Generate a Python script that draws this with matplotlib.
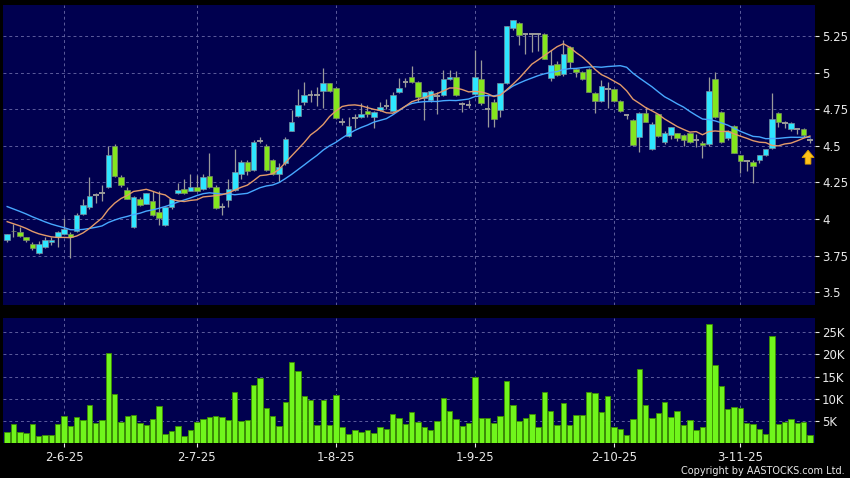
import numpy as np
import pandas as pd
import matplotlib
matplotlib.use("Agg")
import matplotlib.pyplot as plt
from matplotlib.patches import FancyArrow

plt.rcParams["font.family"] = ["DejaVu Sans"]

#%%
# OHLC, one candle per trading day
opens = [3.855, 3.92, 3.91, 3.875, 3.83, 3.765, 3.81, 3.84, 3.875, 3.90,
         3.90, 3.915, 4.035, 4.08, 4.165, 4.18, 4.22, 4.50, 4.29, 4.20,
         3.945, 4.14, 4.105, 4.12, 4.05, 3.96, 4.08, 4.175, 4.205, 4.193,
         4.22, 4.203, 4.294, 4.22, 4.08, 4.13, 4.20, 4.307, 4.39, 4.335,
         4.53, 4.50, 4.403, 4.307, 4.38, 4.603, 4.703, 4.80, 4.847, 4.847,
         4.874, 4.927, 4.893, 4.665, 4.569, 4.688, 4.699, 4.74, 4.699, 4.745,
         4.77, 4.74, 4.865, 4.938, 4.972, 4.934, 4.824, 4.813, 4.84, 4.847,
         4.954, 4.972, 4.783, 4.78, 4.854, 4.954, 4.75, 4.80, 4.745, 4.93,
         5.303, 5.341, 5.262, 5.262, 5.262, 5.262, 4.961, 5.057, 4.988, 5.173,
         5.022, 5.002, 5.022, 4.863, 4.806, 4.886, 4.886, 4.806, 4.71, 4.676,
         4.562, 4.722, 4.475, 4.715, 4.528, 4.574, 4.585, 4.574, 4.585, 4.54,
         4.521, 4.51, 4.954, 4.733, 4.551, 4.635, 4.437, 4.396, 4.391, 4.403,
         4.437, 4.483, 4.722, 4.658, 4.615, 4.613, 4.615, 4.54]
highs = [3.90, 3.965, 3.945, 3.88, 3.845, 3.85, 3.88, 3.88, 3.915, 4.01,
         3.91, 4.04, 4.14, 4.29, 4.18, 4.23, 4.50, 4.51, 4.30, 4.22,
         4.16, 4.15, 4.18, 4.19, 4.19, 4.085, 4.14, 4.245, 4.27, 4.31,
         4.30, 4.31, 4.45, 4.23, 4.11, 4.27, 4.476, 4.40, 4.40, 4.54,
         4.56, 4.51, 4.41, 4.38, 4.56, 4.745, 4.886, 4.938, 4.88, 4.90,
         5.03, 4.93, 4.90, 4.69, 4.70, 4.72, 4.79, 4.78, 4.74, 4.80,
         4.82, 4.87, 4.96, 4.96, 5.045, 4.94, 4.87, 4.88, 4.87, 5.02,
         5.02, 5.01, 4.80, 4.81, 5.154, 5.086, 4.847, 4.82, 4.93, 5.32,
         5.36, 5.345, 5.27, 5.27, 5.27, 5.27, 5.154, 5.08, 5.223, 5.18,
         5.03, 5.01, 5.03, 4.87, 4.95, 4.938, 4.89, 4.81, 4.715, 4.68,
         4.73, 4.767, 4.66, 4.72, 4.60, 4.63, 4.59, 4.58, 4.59, 4.58,
         4.53, 4.972, 5.006, 4.74, 4.61, 4.64, 4.44, 4.40, 4.40, 4.44,
         4.48, 4.859, 4.73, 4.67, 4.66, 4.62, 4.62, 4.555]
lows = [3.84, 3.88, 3.88, 3.84, 3.79, 3.76, 3.80, 3.82, 3.81, 3.90,
        3.735, 3.91, 4.03, 4.07, 4.11, 4.12, 4.21, 4.29, 4.22, 4.14,
        3.94, 4.09, 4.10, 4.02, 3.96, 3.955, 4.07, 4.17, 4.17, 4.19,
        4.19, 4.20, 4.21, 4.07, 4.03, 4.085, 4.19, 4.27, 4.30, 4.33,
        4.52, 4.33, 4.30, 4.25, 4.37, 4.60, 4.70, 4.778, 4.80, 4.77,
        4.756, 4.87, 4.68, 4.64, 4.56, 4.62, 4.69, 4.70, 4.62, 4.74,
        4.75, 4.735, 4.86, 4.90, 4.93, 4.80, 4.676, 4.80, 4.72, 4.84,
        4.95, 4.84, 4.73, 4.76, 4.85, 4.78, 4.63, 4.63, 4.70, 4.92,
        5.29, 5.19, 5.13, 5.14, 5.15, 5.09, 4.94, 4.98, 4.98, 5.03,
        4.97, 4.95, 4.87, 4.722, 4.80, 4.756, 4.80, 4.73, 4.68, 4.50,
        4.46, 4.66, 4.47, 4.56, 4.51, 4.55, 4.53, 4.50, 4.52, 4.49,
        4.414, 4.50, 4.69, 4.52, 4.54, 4.45, 4.312, 4.33, 4.244, 4.38,
        4.43, 4.48, 4.63, 4.62, 4.60, 4.58, 4.56, 4.52]
closes = [3.895, 3.915, 3.885, 3.86, 3.80, 3.83, 3.86, 3.86, 3.91, 3.93,
          3.875, 4.03, 4.095, 4.16, 4.165, 4.18, 4.44, 4.295, 4.23, 4.14,
          4.15, 4.095, 4.175, 4.03, 4.01, 4.08, 4.135, 4.20, 4.18, 4.217,
          4.193, 4.29, 4.217, 4.073, 4.08, 4.203, 4.323, 4.39, 4.328, 4.528,
          4.53, 4.335, 4.307, 4.357, 4.55, 4.665, 4.778, 4.847, 4.847, 4.847,
          4.927, 4.874, 4.688, 4.665, 4.635, 4.688, 4.72, 4.717, 4.733, 4.767,
          4.77, 4.847, 4.893, 4.938, 4.938, 4.831, 4.865, 4.874, 4.84, 4.954,
          4.972, 4.847, 4.783, 4.78, 4.972, 4.79, 4.75, 4.68, 4.927, 5.318,
          5.359, 5.257, 5.262, 5.262, 5.262, 5.09, 5.052, 4.984, 5.125, 5.074,
          5.004, 4.954, 4.87, 4.806, 4.91, 4.886, 4.808, 4.738, 4.71, 4.505,
          4.722, 4.66, 4.649, 4.567, 4.59, 4.626, 4.551, 4.54, 4.528, 4.54,
          4.505, 4.874, 4.695, 4.528, 4.601, 4.453, 4.396, 4.396, 4.362, 4.437,
          4.478, 4.681, 4.665, 4.658, 4.658, 4.613, 4.574, 4.54]
# volume in thousands of shares
volumes_k = [2.5, 4.2, 2.5, 2.3, 4.2, 1.5, 1.8, 1.8, 4.2, 6.0,
             3.9, 5.9, 5.1, 8.6, 4.4, 5.3, 20.4, 11.1, 4.7, 6.2,
             6.4, 4.5, 4.1, 5.5, 8.4, 2.0, 2.6, 3.8, 1.5, 3.0,
             4.7, 5.5, 5.9, 6.0, 5.8, 5.2, 11.4, 5.0, 5.3, 13.0,
             14.7, 8.0, 6.0, 3.9, 9.2, 18.3, 16.3, 10.6, 9.8, 4.1,
             9.6, 4.0, 10.9, 3.5, 2.0, 2.9, 2.5, 2.9, 2.3, 3.5,
             3.2, 6.5, 5.7, 4.2, 6.9, 4.7, 3.6, 3.0, 4.9, 10.1,
             7.3, 5.4, 3.8, 4.4, 14.8, 5.6, 5.6, 4.6, 6.2, 13.9,
             8.6, 5.0, 5.7, 6.6, 3.7, 11.4, 7.2, 4.0, 9.1, 4.1,
             6.4, 6.4, 11.6, 11.2, 6.9, 10.6, 3.7, 3.1, 1.9, 5.5,
             16.8, 8.6, 5.7, 6.8, 9.3, 5.9, 7.2, 4.0, 5.3, 3.0,
             3.5, 26.9, 17.7, 12.9, 7.7, 8.1, 7.9, 4.5, 4.2, 3.1,
             2.0, 24.2, 4.2, 4.8, 5.5, 4.4, 4.8, 1.7]
# closes before the first visible day (only feed the moving averages)
prior_closes = [4.24, 4.22, 4.21, 4.19, 4.18, 4.20, 4.17, 4.16, 4.16, 4.15,
                4.06, 4.03, 4.03, 4.01, 3.99, 3.97, 3.96, 3.95, 3.925]

date_pos = [9, 30, 52, 74, 96, 116]
date_labels = ["2-6-25", "2-7-25", "1-8-25", "1-9-25", "2-10-25", "3-11-25"]
price_ticks = [3.5, 3.75, 4, 4.25, 4.5, 4.75, 5, 5.25]
vol_ticks = [5, 10, 15, 20, 25]

#%%
bg = "#000000"
panel = "#00004f"
up_col = "#2ee6ff"
down_col = "#84e61e"
wick_col = "#9a9a9a"
grid_col = "#5c5c9c"
text_col = "#e8e8e8"

o = np.array(opens)
h = np.array(highs)
l = np.array(lows)
c = np.array(closes)
x = np.arange(len(c))

all_close = pd.Series(prior_closes + closes)
ma10 = all_close.rolling(10).mean().values[len(prior_closes):]
ma20 = all_close.rolling(20).mean().values[len(prior_closes):]

W, H = 850, 478
fig = plt.figure(figsize=(W/100, H/100), dpi=100, facecolor=bg)
ax = fig.add_axes([3/W, 1-305/H, 812/W, 300/H])
axv = fig.add_axes([3/W, 1-443/H, 812/W, 125/H])

xlim = (-0.66, 127.8)

for a in (ax, axv):
    a.set_facecolor(panel)
    a.set_xlim(*xlim)
    for s in a.spines.values():
        s.set_visible(False)
    a.set_xticks(date_pos)
    a.grid(True, color=grid_col, linestyle=(0, (3, 3)), linewidth=0.7)
    a.set_axisbelow(True)
    a.yaxis.tick_right()
    a.tick_params(axis="y", colors=text_col, labelsize=8.5, length=3, pad=2,
                  width=0.8)

# price panel
ax.set_ylim(3.4126, 5.462)
ax.set_yticks(price_ticks)
ax.set_yticklabels(["%g" % t for t in price_ticks])
ax.tick_params(axis="x", length=0, labelbottom=False)

ax.vlines(x, l, h, color=wick_col, linewidth=0.9, zorder=2)
up = c > o
down = c < o
flat = c == o
ax.bar(x[up], (c-o)[up], bottom=o[up], width=0.88, color=up_col,
       edgecolor="#7a8a9a", linewidth=0.5, zorder=3)
ax.bar(x[down], (o-c)[down], bottom=c[down], width=0.88, color=down_col,
       edgecolor="#7a8a6a", linewidth=0.5, zorder=3)
ax.hlines(c[flat], x[flat]-0.45, x[flat]+0.45, color=wick_col, linewidth=1.4,
          zorder=3)

ax.plot(x, ma20, color="#47a8ff", linewidth=1.0, zorder=4)
ax.plot(x, ma10, color="#e39a6a", linewidth=1.0, zorder=4)

ax.add_patch(FancyArrow(126.7, 4.375, 0, 0.095, width=0.9, head_width=1.9,
                        head_length=0.05, length_includes_head=True,
                        color="#ffc21a", ec="#d9a000", linewidth=0.6, zorder=5))

# volume panel
axv.set_ylim(0, 28.2)
axv.set_yticks(vol_ticks)
axv.set_yticklabels(["%dK" % v for v in vol_ticks])
axv.bar(x, volumes_k, width=0.86, color="#70f51c", edgecolor="#3d8f00",
        linewidth=0.6, zorder=3)
axv.set_xticklabels(date_labels)
axv.tick_params(axis="x", colors=text_col, labelsize=8.5, length=3, pad=3,
                width=0.8)

fig.text(845/W, 1-471/H, "Copyright by AASTOCKS.com Ltd.", color=text_col,
         fontsize=7, ha="right", va="center")

fig.savefig("out.png", dpi=100, facecolor=bg)
